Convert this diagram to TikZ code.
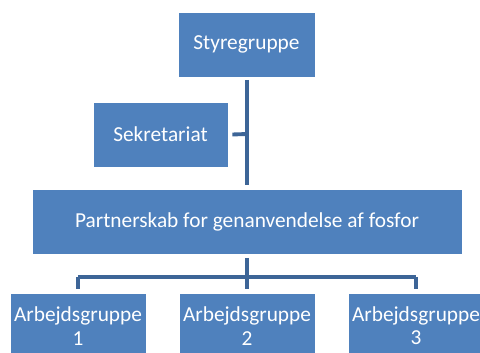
\documentclass[tikz,border=0pt]{standalone}
\usepackage{fontspec}
\setmainfont{Carlito}
\definecolor{boxblue}{HTML}{4F81BD}
\definecolor{linkblue}{HTML}{3D6597}
\begin{document}
\begin{tikzpicture}[x=0.75pt,y=-0.75pt,
  orgbox/.style={rectangle, fill=boxblue, draw=white, line width=0.5pt,
    text=white, font=\fontsize{16}{17.5}\selectfont, align=center, inner sep=0pt},
  link/.style={draw=linkblue, line width=2.9pt}]
  \useasboundingbox (0,0) rectangle (480,353);
  \clip (0,0) rectangle (480,353);
  % boxes
  \node[orgbox, minimum width=137*0.75pt, minimum height=65*0.75pt] (sty) at (246.5,44.5) {Styregruppe};
  \node[orgbox, minimum width=135*0.75pt, minimum height=65*0.75pt] (sek) at (160.5,134.5) {Sekretariat};
  \node[orgbox, minimum width=430*0.75pt, minimum height=65*0.75pt] (par) at (247,221.5) {Partnerskab for genanvendelse af fosfor};
  \node[orgbox, minimum width=136*0.75pt, minimum height=66*0.75pt] (ag1) at (78,326) {Arbejdsgruppe\\1};
  \node[orgbox, minimum width=136*0.75pt, minimum height=66*0.75pt] (ag2) at (247,326) {Arbejdsgruppe\\2};
  \node[orgbox, minimum width=136*0.75pt, minimum height=66*0.75pt] (ag3) at (416,326) {Arbejdsgruppe\\3};
  % connectors
  \coordinate (top) at (247,80);
  \coordinate (bot) at (247,185);
  \coordinate (join) at (247,134);
  \coordinate (bar) at (247,277);
  \draw[link] (top) -- (bot);
  \draw[link] ([xshift=4*0.75pt]sek.east) -- (join);
  \draw[link] (247,258) -- (bar);
  \draw[link] (ag1.north |- bar) -- (ag3.north |- bar);
  \draw[link] (ag1.north |- bar) -- ([yshift=4*0.75pt]ag1.north);
  \draw[link] (bar) -- ([yshift=4*0.75pt]ag2.north);
  \draw[link] (ag3.north |- bar) -- ([yshift=4*0.75pt]ag3.north);
\end{tikzpicture}
\end{document}
